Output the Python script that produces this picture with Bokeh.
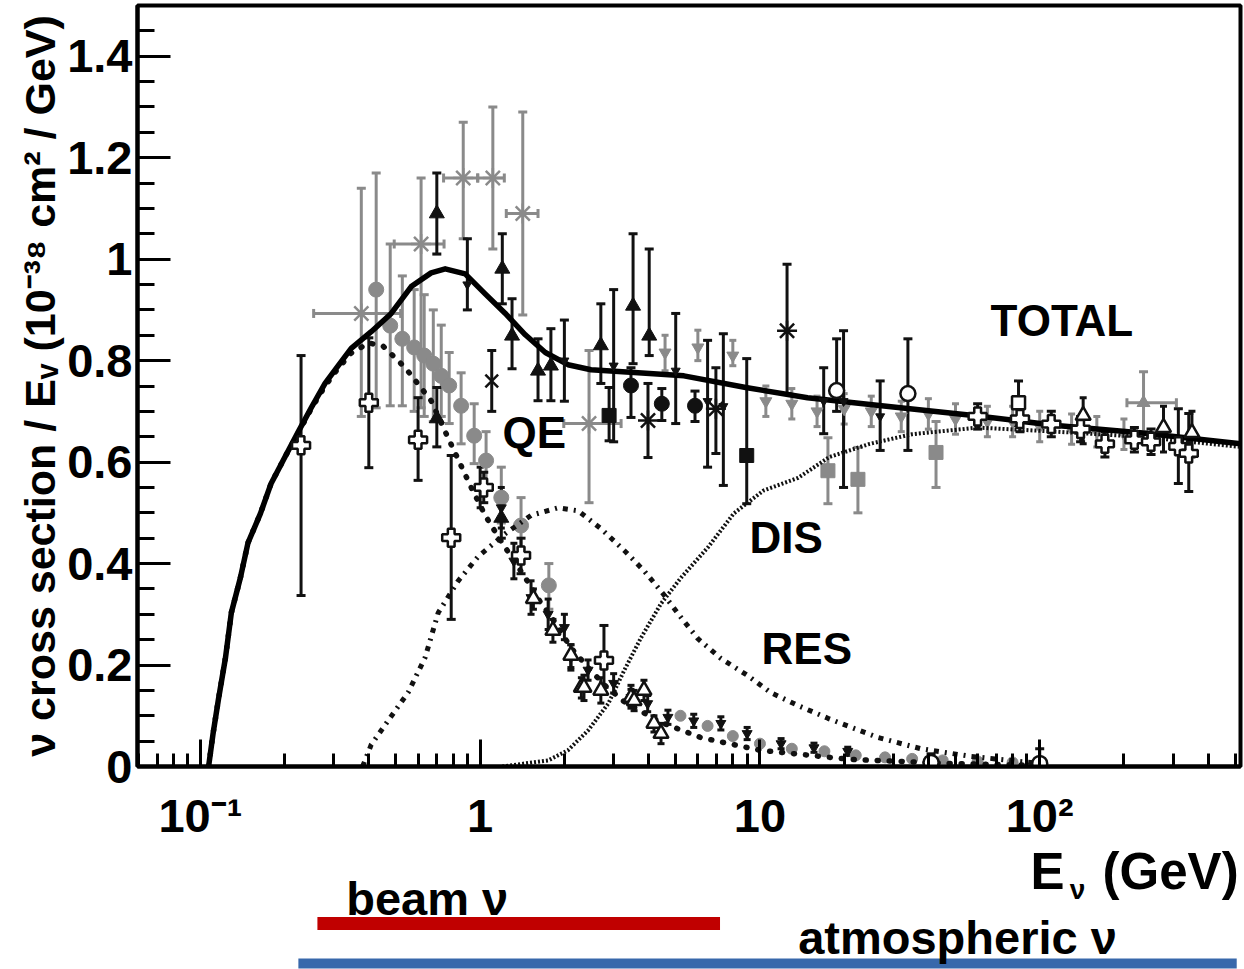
from bokeh.plotting import figure
from bokeh.models import (Range1d, FixedTicker, CustomJSTickFormatter, Whisker, TeeHead,
                          ColumnDataSource, SingleIntervalTicker)
from bokeh.layouts import column
from bokeh.core.properties import value
from bokeh.embed import file_html
from bokeh.resources import INLINE

FONT = "Liberation Sans"
GRAY = "#8a8a8a"
BLACK = "#111111"

# ---------------- model curves (E in GeV, sigma/E in 1e-38 cm^2/GeV) ----------------
tot_E = [0.107, 0.111, 0.116, 0.123, 0.129, 0.139, 0.148, 0.164, 0.179, 0.201, 0.224, 0.249,
         0.279, 0.311, 0.346, 0.408, 0.481, 0.567, 0.668, 0.75, 0.884, 1.04, 1.23, 1.45, 1.71,
         2.06, 2.49, 3.67, 5.35, 8.9, 14.8, 29.4, 58, 115, 228, 522]
tot_y = [0.0, 0.065, 0.132, 0.215, 0.303, 0.372, 0.441, 0.499, 0.558, 0.611, 0.660, 0.707,
         0.755, 0.790, 0.824, 0.857, 0.893, 0.946, 0.973, 0.981, 0.971, 0.932, 0.893, 0.851, 0.816,
         0.792, 0.782, 0.776, 0.770, 0.747, 0.727, 0.709, 0.692, 0.672, 0.658, 0.636]

qe_E = [0.107, 0.111, 0.116, 0.123, 0.129, 0.139, 0.148, 0.164, 0.179, 0.201, 0.224, 0.249,
        0.279, 0.311, 0.346, 0.40, 0.451, 0.54, 0.668, 0.75, 0.835, 0.929, 1.042, 1.16, 1.29, 1.45,
        1.61, 1.85, 2.11, 2.43, 2.79, 3.30, 4.43, 6.15, 10, 21, 48, 100]
qe_y = [0.0, 0.065, 0.132, 0.215, 0.303, 0.372, 0.441, 0.499, 0.558, 0.611, 0.658, 0.705,
        0.75, 0.785, 0.815, 0.835, 0.828, 0.786, 0.721, 0.660, 0.605, 0.550, 0.495, 0.453, 0.414,
        0.372, 0.331, 0.284, 0.234, 0.195, 0.160, 0.126, 0.087, 0.057, 0.032, 0.014, 0.006, 0.002]

res_E = [0.38, 0.408, 0.481, 0.553, 0.636, 0.708, 0.835, 0.984, 1.23, 1.52, 1.90, 2.24, 2.70,
         3.27, 3.85, 4.50, 5.22, 6.00, 7.25, 9.06, 10.9, 13.7, 17.5, 21.7, 26.5, 37.6, 56.6, 100]
res_y = [0.0, 0.043, 0.099, 0.146, 0.215, 0.303, 0.366, 0.414, 0.459, 0.495, 0.510, 0.504, 0.469,
         0.426, 0.386, 0.341, 0.294, 0.252, 0.213, 0.179, 0.146, 0.120, 0.095, 0.075, 0.057, 0.035,
         0.020, 0.006]

dis_E = [1.2, 1.75, 2.06, 2.43, 2.87, 3.27, 3.76, 4.43, 5.22, 6.52, 8.07, 10.3, 13.7, 17.7, 24.7,
         35, 60, 115, 228, 522]
dis_y = [0.0, 0.012, 0.032, 0.071, 0.124, 0.189, 0.254, 0.321, 0.372, 0.432, 0.499, 0.544, 0.569,
         0.610, 0.636, 0.655, 0.668, 0.660, 0.650, 0.630]

curve_names = ["QE", "RES", "DIS", "TOTAL"]
label_E = [1.56, 14.7, 12.4, 120]
label_y = [0.658, 0.233, 0.451, 0.879]

# ---------------- measurements ----------------
# gray asterisks with horizontal bins
gs_E = [0.376, 0.615, 0.87, 1.11, 1.42, 2.45]
gs_y = [0.893, 1.03, 1.16, 1.16, 1.09, 0.676]
gs_lo = [0.69, 0.707, 1.04, 1.02, 0.89, 0.52]
gs_hi = [1.14, 1.16, 1.27, 1.30, 1.29, 0.82]
gs_xlo = [0.254, 0.493, 0.74, 0.98, 1.24, 1.99]
gs_xhi = [0.52, 0.743, 0.98, 1.22, 1.61, 3.19]

# black filled triangles
bt_E = [0.70, 0.70, 1.19, 1.20, 1.30, 1.61, 1.79, 2.70, 3.52, 4.02]
bt_y = [1.09, 0.686, 0.49, 0.981, 0.849, 0.78, 0.79, 0.83, 0.908, 0.849]
bt_lo = [1.01, 0.63, 0.45, 0.912, 0.784, 0.721, 0.721, 0.755, 0.794, 0.81]
bt_hi = [1.17, 0.747, 0.53, 1.05, 0.922, 0.843, 0.863, 0.912, 1.05, 1.02]

# gray filled circles (QE)
gc_E = [0.425, 0.477, 0.527, 0.581, 0.631, 0.68, 0.726, 0.775, 0.855, 0.952, 1.05, 1.19, 1.40, 1.76]
gc_y = [0.94, 0.869, 0.843, 0.826, 0.81, 0.794, 0.77, 0.751, 0.711, 0.652, 0.603, 0.53, 0.475, 0.357]
gc_lo = [0.707, 0.711, 0.711, 0.70, 0.69, 0.68, 0.69, 0.676, 0.636, 0.597, 0.55, 0.48, 0.43, 0.31]
gc_hi = [1.17, 1.03, 0.967, 0.94, 0.93, 0.90, 0.87, 0.816, 0.776, 0.715, 0.66, 0.59, 0.53, 0.40]

# open crosses
oc_E = [0.229, 0.40, 0.60, 0.788, 1.03, 1.40, 2.77, 60, 85, 110, 140, 171, 218, 250, 313, 341]
oc_y = [0.633, 0.717, 0.644, 0.451, 0.55, 0.416, 0.209, 0.69, 0.685, 0.675, 0.665, 0.636, 0.644,
        0.64, 0.631, 0.617]
oc_lo = [0.337, 0.589, 0.564, 0.29, 0.52, 0.38, 0.156, 0.665, 0.66, 0.65, 0.64, 0.61, 0.62, 0.615,
         0.558, 0.542]
oc_hi = [0.81, 0.845, 0.727, 0.613, 0.58, 0.45, 0.278, 0.715, 0.71, 0.70, 0.69, 0.66, 0.668, 0.665,
         0.705, 0.696]

# black filled circles
bc_E = [3.46, 4.46, 5.86]
bc_y = [0.751, 0.715, 0.711]
bc_lo = [0.688, 0.682, 0.68]
bc_hi = [0.786, 0.745, 0.74]

# black squares
bs_E = [2.89, 8.97]
bs_y = [0.692, 0.613]
bs_lo = [0.642, 0.518]
bs_hi = [0.747, 0.804]

# gray squares
gq_E = [17.5, 22.4, 42.6]
gq_y = [0.583, 0.566, 0.619]
gq_lo = [0.518, 0.50, 0.55]
gq_hi = [0.648, 0.629, 0.68]

# black asterisks
ba_E = [3.98, 6.96, 12.5]
ba_y = [0.682, 0.705, 0.859]
ba_lo = [0.609, 0.617, 0.735]
ba_hi = [0.755, 0.786, 0.99]

# black x
bx_E = [1.10]
bx_y = [0.76]
bx_lo = [0.70]
bx_hi = [0.82]

# gray inverted triangles (near total)
gd_E = [4.58, 6.0, 8.0, 10.5, 13, 16, 20, 25, 32, 40, 50, 65, 80, 100, 130, 160, 200]
gd_y = [0.816, 0.826, 0.81, 0.72, 0.715, 0.70, 0.705, 0.70, 0.69, 0.695, 0.685, 0.68, 0.68, 0.67,
        0.665, 0.66, 0.655]
gd_lo = [0.78, 0.80, 0.79, 0.69, 0.685, 0.67, 0.675, 0.67, 0.66, 0.665, 0.655, 0.65, 0.65, 0.64,
         0.635, 0.63, 0.625]
gd_hi = [0.85, 0.86, 0.84, 0.75, 0.745, 0.73, 0.735, 0.73, 0.72, 0.725, 0.715, 0.71, 0.71, 0.70,
         0.695, 0.69, 0.685]

# open circles
ci_E = [18.8, 33.8, 40.9, 100]
ci_y = [0.741, 0.735, 0.008, 0.006]
ci_lo = [0.70, 0.623, 0.0, 0.0]
ci_hi = [0.843, 0.843, 0.025, 0.035]

# open triangles
ot_E = [1.55, 1.82, 2.11, 2.3, 2.35, 2.7, 3.46, 3.55, 3.85, 4.18, 4.43, 143, 277, 350]
ot_y = [0.331, 0.268, 0.219, 0.156, 0.156, 0.15, 0.136, 0.13, 0.15, 0.085, 0.065, 0.692, 0.668, 0.658]
ot_lo = [0.31, 0.245, 0.195, 0.135, 0.13, 0.125, 0.115, 0.11, 0.13, 0.068, 0.045, 0.636, 0.62, 0.61]
ot_hi = [0.35, 0.29, 0.24, 0.175, 0.18, 0.175, 0.16, 0.15, 0.17, 0.10, 0.085, 0.727, 0.71, 0.70]

# open squares
os_E = [84]
os_y = [0.717]
os_lo = [0.672]
os_hi = [0.76]

# small black markers (QE region)
bd_E = [1.0, 1.19, 1.32, 1.52, 1.75, 2.0, 2.11, 2.43, 3.0, 3.46, 3.97, 4.69, 5.8, 7.25, 9.0, 11.9,
        15.6, 20.6]
bd_y = [0.55, 0.51, 0.405, 0.333, 0.30, 0.274, 0.215, 0.19, 0.164, 0.136, 0.124, 0.097, 0.09,
        0.085, 0.065, 0.045, 0.037, 0.03]
bd_lo = [0.51, 0.47, 0.37, 0.30, 0.27, 0.25, 0.19, 0.17, 0.145, 0.12, 0.108, 0.083, 0.077, 0.072,
         0.053, 0.035, 0.028, 0.022]
bd_hi = [0.59, 0.55, 0.44, 0.366, 0.33, 0.30, 0.24, 0.21, 0.183, 0.152, 0.14, 0.111, 0.103, 0.098,
         0.077, 0.055, 0.046, 0.038]

# small gray markers (QE tail)
gt_E = [5.2, 6.5, 8.0, 10, 13, 17, 22, 28, 35, 45, 60, 80]
gt_y = [0.10, 0.08, 0.06, 0.045, 0.035, 0.03, 0.022, 0.018, 0.015, 0.012, 0.01, 0.008]

# black bars with small markers near the total
bb_E = [0.90, 2.0, 3.0, 5.0, 6.5, 7.4, 16.9, 19.9, 26.9]
bb_y = [0.95, 0.80, 0.79, 0.78, 0.72, 0.71, 0.72, 0.72, 0.69]
bb_lo = [0.90, 0.72, 0.64, 0.676, 0.59, 0.554, 0.656, 0.55, 0.623]
bb_hi = [1.04, 0.88, 0.94, 0.893, 0.84, 0.853, 0.786, 0.859, 0.76]

# gray triangle with energy bin
gx_E = [235]
gx_y = [0.717]
gx_lo = [0.66]
gx_hi = [0.778]
gx_xlo = [205]
gx_xhi = [308]

# bottom bands
band_names = ["beam ν", "atmospheric ν"]
band_lo = [0.262, 0.224]
band_hi = [7.2, 506]
band_colors = ["#c00000", "#3868ab"]

E_MIN, E_MAX = 0.0596, 522
Y_MIN, Y_MAX = 0.0, 1.5

MAIN_H = 844
p = figure(width=1244, height=MAIN_H, x_axis_type="log",
           x_range=Range1d(E_MIN, E_MAX), y_range=Range1d(Y_MIN, Y_MAX),
           min_border_left=137, min_border_right=4, min_border_top=5, min_border_bottom=MAIN_H - 766,
           toolbar_location=None, output_backend="svg")
p.xgrid.visible = False
p.ygrid.visible = False
p.outline_line_color = "black"
p.outline_line_width = 4
p.background_fill_color = "white"
p.border_fill_color = "white"

minors = [m * 10.0 ** d for d in range(-2, 3) for m in range(2, 10)]
minors = [v for v in minors if E_MIN < v < E_MAX]
p.xaxis.ticker = FixedTicker(ticks=[0.1, 1, 10, 100], minor_ticks=minors)
p.xaxis.formatter = CustomJSTickFormatter(code="""
const k = Math.round(Math.log10(tick));
const m = {'-1': '10\u207b\u00b9', '0': '1', '1': '10', '2': '10\u00b2'};
return m[String(k)];
""")
p.yaxis.ticker = SingleIntervalTicker(interval=0.2, num_minor_ticks=4)
p.yaxis.formatter = CustomJSTickFormatter(code="""
if (Math.abs(tick) < 1e-9) return '0';
if (Math.abs(tick - 1) < 1e-9) return '1';
return tick.toFixed(1);
""")

for ax in (p.xaxis[0], p.yaxis[0]):
    ax.axis_line_width = 4
    ax.axis_line_color = "black"
    ax.major_tick_out = 0
    ax.minor_tick_out = 0
    ax.major_tick_line_width = 3
    ax.minor_tick_line_width = 3
    ax.major_tick_line_color = "black"
    ax.minor_tick_line_color = "black"
    ax.major_label_text_font = FONT
    ax.major_label_text_font_style = "bold"
    ax.major_label_text_font_size = "47px"
    ax.major_label_text_color = "black"

p.xaxis.major_tick_in = 27
p.xaxis.minor_tick_in = 13
p.xaxis.major_label_standoff = 22
p.yaxis.major_tick_in = 33
p.yaxis.minor_tick_in = 17
p.yaxis.major_label_standoff = 5

p.yaxis.axis_label = "ν cross section / Eᵥ (10⁻³⁸ cm² / GeV)"
p.yaxis.axis_label_text_font = FONT
p.yaxis.axis_label_text_font_style = "bold"
p.yaxis.axis_label_text_font_size = "43px"
p.yaxis.axis_label_text_color = "black"
p.yaxis.axis_label_standoff = 0


def yerr(E, lo, hi, color, size=9):
    src = ColumnDataSource(dict(E=E, lo=lo, hi=hi))
    p.add_layout(Whisker(source=src, base="E", lower="lo", upper="hi", dimension="height",
                         line_color=color, line_width=3,
                         upper_head=TeeHead(size=size, line_color=color, line_width=3),
                         lower_head=TeeHead(size=size, line_color=color, line_width=3)))


def xerr(E, y, xlo, xhi, color, size=9):
    src = ColumnDataSource(dict(y=y, lo=xlo, hi=xhi))
    p.add_layout(Whisker(source=src, base="y", lower="lo", upper="hi", dimension="width",
                         line_color=color, line_width=3,
                         upper_head=TeeHead(size=size, line_color=color, line_width=3),
                         lower_head=TeeHead(size=size, line_color=color, line_width=3)))


# gray measurements
yerr(gs_E, gs_lo, gs_hi, GRAY)
xerr(gs_E, gs_y, gs_xlo, gs_xhi, GRAY)
p.scatter(gs_E, gs_y, marker="asterisk", size=20, line_color=GRAY, line_width=2.5)
yerr(gc_E, gc_lo, gc_hi, GRAY)
p.scatter(gc_E, gc_y, marker="circle", size=15, fill_color=GRAY, line_color=GRAY)
yerr(gq_E, gq_lo, gq_hi, GRAY)
p.scatter(gq_E, gq_y, marker="square", size=14, fill_color=GRAY, line_color=GRAY)
yerr(gd_E, gd_lo, gd_hi, GRAY, size=7)
p.scatter(gd_E, gd_y, marker="inverted_triangle", size=12, fill_color=GRAY, line_color=GRAY)
p.scatter(gt_E, gt_y, marker="circle", size=11, fill_color=GRAY, line_color=GRAY)
yerr(gx_E, gx_lo, gx_hi, GRAY)
xerr(gx_E, gx_y, gx_xlo, gx_xhi, GRAY)
p.scatter(gx_E, gx_y, marker="triangle", size=13, fill_color=GRAY, line_color=GRAY)

# model curves
p.line(dis_E, dis_y, line_color=BLACK, line_width=4, line_dash="2 2")
p.line(res_E, res_y, line_color=BLACK, line_width=5, line_dash="5 6 2 6")
p.line(qe_E, qe_y, line_color=BLACK, line_width=5.5, line_dash="1 11", line_cap="round")
p.line(tot_E, tot_y, line_color="black", line_width=5.5, line_cap="round", line_join="round")

# black measurements
yerr(bt_E, bt_lo, bt_hi, BLACK)
p.scatter(bt_E, bt_y, marker="triangle", size=15, fill_color=BLACK, line_color=BLACK)
yerr(bc_E, bc_lo, bc_hi, BLACK)
p.scatter(bc_E, bc_y, marker="circle", size=15, fill_color=BLACK, line_color=BLACK)
yerr(bs_E, bs_lo, bs_hi, BLACK)
p.scatter(bs_E, bs_y, marker="square", size=14, fill_color=BLACK, line_color=BLACK)
yerr(ba_E, ba_lo, ba_hi, BLACK)
p.scatter(ba_E, ba_y, marker="asterisk", size=20, line_color=BLACK, line_width=2.5)
yerr(bx_E, bx_lo, bx_hi, BLACK)
p.scatter(bx_E, bx_y, marker="x", size=18, line_color=BLACK, line_width=2.5)
yerr(bd_E, bd_lo, bd_hi, BLACK, size=7)
p.scatter(bd_E, bd_y, marker="inverted_triangle", size=10, fill_color=BLACK, line_color=BLACK)
yerr(bb_E, bb_lo, bb_hi, BLACK)
p.scatter(bb_E, bb_y, marker="inverted_triangle", size=9, fill_color=BLACK, line_color=BLACK)
yerr(oc_E, oc_lo, oc_hi, BLACK)
p.scatter(oc_E, oc_y, marker="plus", size=18, fill_color="white", line_color=BLACK, line_width=2.5)
yerr(ci_E, ci_lo, ci_hi, BLACK)
p.scatter(ci_E, ci_y, marker="circle", size=15, fill_color="white", line_color=BLACK, line_width=2.5)
yerr(ot_E, ot_lo, ot_hi, BLACK, size=7)
p.scatter(ot_E, ot_y, marker="triangle", size=15, fill_color="white", line_color=BLACK, line_width=2.5)
yerr(os_E, os_lo, os_hi, BLACK)
p.scatter(os_E, os_y, marker="square", size=13, fill_color="white", line_color=BLACK, line_width=2.5)

# curve labels
p.text(label_E, label_y, text=curve_names, text_font=value(FONT), text_font_style="bold",
       text_font_size="44px", text_align="center", text_baseline="middle", text_color="black")

# ---------------- bottom strip: axis title and energy bands ----------------
STRIP_H = 969 - MAIN_H
p2 = figure(width=1244, height=STRIP_H, x_axis_type="log", x_range=p.x_range,
            y_range=Range1d(0, STRIP_H), min_border_left=137, min_border_right=4,
            min_border_top=0, min_border_bottom=0, x_axis_location=None, y_axis_location=None,
            toolbar_location=None, output_backend="svg")
p2.outline_line_color = None
p2.xgrid.visible = False
p2.ygrid.visible = False
p2.background_fill_color = "white"
p2.border_fill_color = "white"

p2.segment(x0=band_lo, x1=band_hi, y0=[46, 6], y1=[46, 6], line_color=band_colors,
           line_width=[13, 10])
p2.text(x=[0.332, 13.7], y=[71, 32], text=band_names, text_font=value(FONT),
        text_font_style="bold", text_font_size="47px", text_align="left",
        text_baseline="alphabetic", text_color="black")

# x-axis title  E_ν (GeV)
p2.text(x=[92.7], y=[98], text=["E"], text_font=value(FONT), text_font_style="bold",
        text_font_size="51px", text_align="left", text_baseline="alphabetic", text_color="black")
p2.text(x=[128], y=[80], text=["ν"], text_font=value(FONT), text_font_style="bold",
        text_font_size="28px", text_align="left", text_baseline="alphabetic", text_color="black")
p2.text(x=[514], y=[98], text=["(GeV)"], text_font=value(FONT), text_font_style="bold",
        text_font_size="51px", text_align="right", text_baseline="alphabetic", text_color="black")

layout = column(p, p2, spacing=0)
open("out.html", "w").write(file_html(layout, INLINE))
